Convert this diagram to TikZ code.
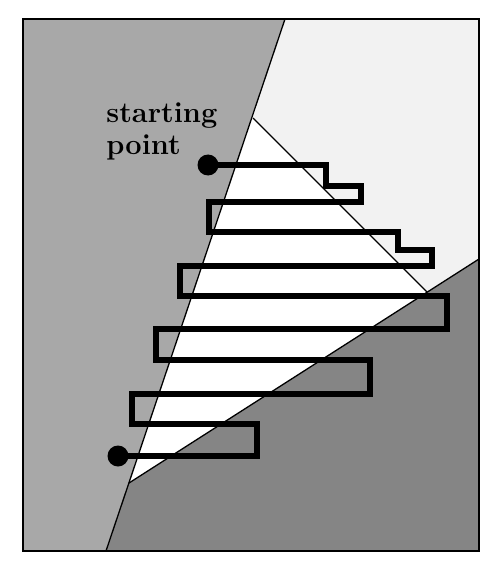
\documentclass[tikz,border=0pt]{standalone}
\usetikzlibrary{positioning}
\usetikzlibrary{calc}

\tikzset{
	region line/.style={line width=1.3pt},
	sweep path/.style={line width=6.5pt, line join=miter},
	end dot/.style={circle, fill=black, inner sep=0pt, minimum size=21pt},
	label text/.style={inner sep=0pt, font=\fontsize{29}{32}\selectfont\bfseries}
}

\begin{document}
\begin{tikzpicture}[x=1pt, y=-1pt, thick]
	\useasboundingbox (0,0) rectangle (501,564);

	% the three shaded regions
	\fill[black!34] (23,19) -- (285,19) -- (106,551) -- (23,551) -- cycle;
	\fill[black!5] (285,19) -- (479,19) -- (479,259) -- (427,292) -- (253,118) -- cycle;
	\fill[black!48] (479,259) -- (479,551) -- (106,551) -- (129,483) -- cycle;

	% boundaries
	\draw[region line] (285,19) -- (106,551);
	\draw[region line] (253,118) -- (427,292);
	\draw[region line] (479,259) -- (129,483);
	\draw[line width=1.8pt] (23,19) rectangle (479,551);

	\node[label text, anchor=base west] (starting) at (106,123) {starting};
	\node[label text, anchor=base west] (point) at (106,155) {point};

	\node[end dot] (start) at (208,165) {};
	\node[end dot] (finish) at (118,456) {};

	\draw[sweep path] (start.center) -- (326,165) -- (326,186) -- (361,186) -- (361,202)
		-- (209,202) -- (209,232) -- (398,232) -- (398,250) -- (432,250) -- (432,266)
		-- (180,266) -- (180,296) -- (447,296) -- (447,329) -- (156,329) -- (156,360)
		-- (370,360) -- (370,394) -- (132,394) -- (132,424) -- (257,424) -- (257,456)
		-- (finish.center);
\end{tikzpicture}
\end{document}
